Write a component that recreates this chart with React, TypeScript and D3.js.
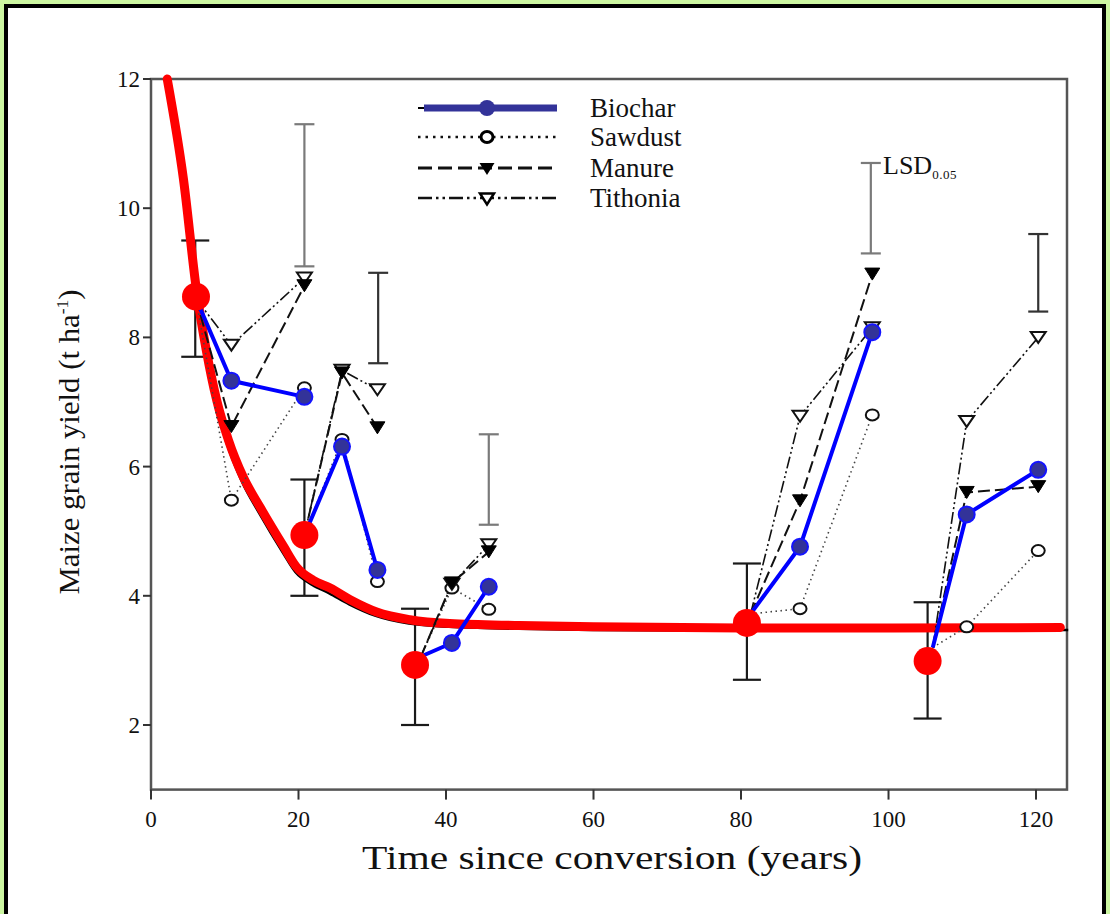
import React from "react";
import * as d3 from "d3";

// ---- data ----
const xTicks = [0, 20, 40, 60, 80, 100, 120];
const yTicks = [2, 4, 6, 8, 10, 12];

// common starting point of each treatment group (time, yield)
const groupStartYears = [6.1, 20.8, 36.6, 81.3, 106.0];
const groupStartYield = [8.6, 4.94, 3.06, 3.72, 3.2];
// the two following sampling times of each group
const groupYears = [
  [10.9, 20.8],
  [25.9, 30.7],
  [40.8, 45.8],
  [88.0, 97.8],
  [110.6, 120.3],
];

const biochar = [[7.33, 7.08], [6.31, 4.4], [3.27, 4.14], [4.76, 8.08], [5.26, 5.95]];
const sawdust = [[5.48, 7.22], [6.42, 4.22], [4.12, 3.79], [3.8, 6.8], [3.52, 4.7]];
const manure = [[6.62, 8.8], [7.45, 6.6], [4.2, 4.68], [5.47, 8.98], [5.6, 5.69]];
const tithonia = [[7.88, 8.92], [7.49, 7.19], [4.18, 4.79], [6.78, 8.15], [6.7, 8.0]];

// error bars at group starts
const errYears = [6.0, 20.8, 35.8, 80.8, 105.3];
const errLow = [7.7, 4.0, 2.0, 2.7, 2.1];
const errHigh = [9.5, 5.8, 3.8, 4.5, 3.9];

// LSD 0.05 bars
const lsdYears = [20.8, 30.8, 45.8, 97.6, 120.3];
const lsdLow = [9.1, 7.6, 5.1, 9.3, 8.4];
const lsdHigh = [11.3, 9.0, 6.5, 10.7, 9.6];

// red overlay curve and dots
const curveYears = [2.2, 4.4, 6.2, 7.5, 8.9, 10.5, 12.5, 14.8, 18.0, 19.7, 22.0, 24.3, 27.0, 30.6, 35.1, 40.5, 50, 60, 80, 100, 123.3];
const curveYield = [12.0, 10.45, 8.7, 7.8, 7.03, 6.41, 5.84, 5.37, 4.76, 4.45, 4.24, 4.12, 3.94, 3.75, 3.63, 3.57, 3.54, 3.52, 3.5, 3.5, 3.51];
const fitYears = [2.2, 4.4, 6.2, 7.5, 8.9, 10.5, 12.5, 14.8, 18.0, 19.7, 22.0, 24.3, 27.0, 30.6, 35.1, 40.5, 50, 60, 80, 100, 124.5];
const fitYield = [12.0, 10.4, 8.65, 7.75, 6.98, 6.36, 5.79, 5.31, 4.7, 4.4, 4.2, 4.07, 3.9, 3.72, 3.6, 3.55, 3.52, 3.5, 3.49, 3.49, 3.5];
const redDotYears = [6.1, 20.8, 35.8, 80.8, 105.3];
const redDotYield = [8.63, 4.94, 2.93, 3.58, 2.99];

const legendNames = ["Biochar", "Sawdust", "Manure", "Tithonia"];

// ---- scales ----
const x = d3.scaleLinear().domain([0, 124.2]).range([151, 1067]);
const y = d3.scaleLinear().domain([1, 12]).range([789.6, 79]);

const serif: React.CSSProperties = { fontFamily: "'Liberation Serif', 'DejaVu Serif', serif" };

function seriesPoints(vals: number[][], g: number): [number, number][] {
  return [
    [groupStartYears[g], groupStartYield[g]],
    [groupYears[g][0], vals[g][0]],
    [groupYears[g][1], vals[g][1]],
  ];
}

const line = d3
  .line<[number, number]>()
  .x((d) => x(d[0]))
  .y((d) => y(d[1]));

const curveLine = d3
  .line<[number, number]>()
  .x((d) => x(d[0]))
  .y((d) => y(d[1]))
  .curve(d3.curveMonotoneX);

function triDown(cx: number, cy: number, w: number, h: number) {
  return `M${cx - w / 2},${cy - h / 2}L${cx + w / 2},${cy - h / 2}L${cx},${cy + h / 2}Z`;
}

export default function App() {
  const groupsIdx = d3.range(groupStartYears.length);
  const redCurve: [number, number][] = curveYears.map((t, i) => [t, curveYield[i]]);
  const blackFit: [number, number][] = fitYears.map((t, i) => [t, fitYield[i]]);
  const lsdShade = ["#7a7a7a", "#333", "#7a7a7a", "#7a7a7a", "#333"];

  const legendY = [108, 137, 168, 198];

  return (
    <svg width={1110} height={914} style={{ position: "absolute", left: 0, top: 0 }}>
      <rect x={0} y={0} width={1110} height={914} fill="#cdf7a2" />
      <rect x={6} y={6} width={1098} height={930} fill="#ffffff" stroke="#000" strokeWidth={4} />

      {/* axes frame */}
      <rect x={x(0)} y={y(12)} width={x(124.2) - x(0)} height={y(1) - y(12)} fill="none" stroke="#555" strokeWidth={2.5} />

      {/* y ticks */}
      {yTicks.map((v) => (
        <g key={"yt" + v}>
          <line x1={x(0) - 8} x2={x(0)} y1={y(v)} y2={y(v)} stroke="#333" strokeWidth={2} />
          <text x={x(0) - 11} y={y(v) + 8} fontSize={23} textAnchor="end" fill="#111" style={serif}>
            {v}
          </text>
        </g>
      ))}
      {/* x ticks */}
      {xTicks.map((v) => (
        <g key={"xt" + v}>
          <line x1={x(v)} x2={x(v)} y1={y(1)} y2={y(1) + 10} stroke="#333" strokeWidth={2} />
          <text x={x(v)} y={y(1) + 37} fontSize={23} textAnchor="middle" fill="#111" style={serif}>
            {v}
          </text>
        </g>
      ))}

      {/* axis titles */}
      <text x={612} y={869} fontSize={34} textAnchor="middle" fill="#111" textLength={500} lengthAdjust="spacingAndGlyphs" style={serif}>
        Time since conversion (years)
      </text>
      <text transform="translate(79,442) rotate(-90)" fontSize={30} textAnchor="middle" fill="#111" style={serif} textLength={305} lengthAdjust="spacingAndGlyphs">
        Maize grain yield (t ha
        <tspan fontSize={17} dy={-11}>
          -1
        </tspan>
        <tspan dy={11}>)</tspan>
      </text>

      {/* standard error bars */}
      {errYears.map((t, i) => (
        <g key={"eb" + i} stroke="#1a1a1a" strokeWidth={2.2}>
          <line x1={x(t)} x2={x(t)} y1={y(errLow[i])} y2={y(errHigh[i])} />
          <line x1={x(t) - 14} x2={x(t) + 14} y1={y(errLow[i])} y2={y(errLow[i])} />
          <line x1={x(t) - 14} x2={x(t) + 14} y1={y(errHigh[i])} y2={y(errHigh[i])} />
        </g>
      ))}
      {/* LSD bars */}
      {lsdYears.map((t, i) => (
        <g key={"lsd" + i} stroke={lsdShade[i]} strokeWidth={2.2}>
          <line x1={x(t)} x2={x(t)} y1={y(lsdLow[i])} y2={y(lsdHigh[i])} />
          <line x1={x(t) - 10} x2={x(t) + 10} y1={y(lsdLow[i])} y2={y(lsdLow[i])} />
          <line x1={x(t) - 10} x2={x(t) + 10} y1={y(lsdHigh[i])} y2={y(lsdHigh[i])} />
        </g>
      ))}
      <text x={883} y={174} fontSize={26} fill="#111" style={serif}>
        LSD
        <tspan fontSize={13} dy={5} letterSpacing={0.5}>
          0.05
        </tspan>
      </text>

      {/* fitted curve (black) and red overlay */}
      <path d={curveLine(blackFit) || ""} fill="none" stroke="#000" strokeWidth={2.5} transform="translate(-1,2)" />
      <path d={curveLine(redCurve) || ""} fill="none" stroke="#ff0000" strokeWidth={9} strokeLinecap="round" />

      {/* treatment series */}
      {groupsIdx.map((g) => {
        const saw = seriesPoints(sawdust, g);
        const man = seriesPoints(manure, g);
        const tit = seriesPoints(tithonia, g);
        const bio = seriesPoints(biochar, g);
        return (
          <g key={"grp" + g}>
            <path d={line(saw) || ""} fill="none" stroke="#444" strokeWidth={1.6} strokeDasharray="1.5 3.5" />
            <path d={line(tit) || ""} fill="none" stroke="#111" strokeWidth={1.6} strokeDasharray="12 3 2 3 2 3" />
            <path d={line(man) || ""} fill="none" stroke="#111" strokeWidth={2} strokeDasharray="12 5" />
            {saw.slice(1).map((p, k) => (
              <ellipse key={"s" + k} cx={x(p[0])} cy={y(p[1])} rx={6.5} ry={5.5} fill="#fff" stroke="#111" strokeWidth={2} />
            ))}
            {tit.slice(1).map((p, k) => (
              <path key={"t" + k} d={triDown(x(p[0]), y(p[1]), 15, 11)} fill="#fff" stroke="#111" strokeWidth={2} />
            ))}
            {man.slice(1).map((p, k) => (
              <path key={"m" + k} d={triDown(x(p[0]), y(p[1]), 15, 12)} fill="#000" stroke="#000" strokeWidth={1} />
            ))}
            <path d={line(bio) || ""} fill="none" stroke="#0000ff" strokeWidth={4} />
            {bio.slice(1).map((p, k) => (
              <circle key={"b" + k} cx={x(p[0])} cy={y(p[1])} r={8} fill="#333399" stroke="#1414ff" strokeWidth={2} />
            ))}
          </g>
        );
      })}

      {/* red overlay dots */}
      {redDotYears.map((t, i) => (
        <circle key={"rd" + i} cx={x(t)} cy={y(redDotYield[i])} r={14} fill="#ff0000" />
      ))}

      {/* legend */}
      <g>
        <line x1={418} x2={426} y1={legendY[0]} y2={legendY[0]} stroke="#000" strokeWidth={2} />
        <line x1={424} x2={557} y1={legendY[0]} y2={legendY[0]} stroke="#333399" strokeWidth={7} />
        <circle cx={487} cy={legendY[0]} r={8} fill="#333399" />

        <line x1={418} x2={557} y1={legendY[1]} y2={legendY[1]} stroke="#111" strokeWidth={2.5} strokeDasharray="2.5 5" />
        <ellipse cx={487} cy={legendY[1]} rx={6} ry={5.5} fill="#fff" stroke="#000" strokeWidth={3} />

        <line x1={418} x2={557} y1={legendY[2]} y2={legendY[2]} stroke="#111" strokeWidth={3} strokeDasharray="14 6" />
        <path d={triDown(487, legendY[2] + 1, 15, 12)} fill="#000" />

        <line x1={418} x2={557} y1={legendY[3]} y2={legendY[3]} stroke="#111" strokeWidth={2.5} strokeDasharray="14 4 2.5 4 2.5 4" />
        <path d={triDown(487, legendY[3] + 1, 14, 11)} fill="#fff" stroke="#000" strokeWidth={2.5} />

        {legendNames.map((n, i) => (
          <text key={n} x={590} y={legendY[i] + 9} fontSize={27} fill="#111" style={serif}>
            {n}
          </text>
        ))}
      </g>
    </svg>
  );
}
